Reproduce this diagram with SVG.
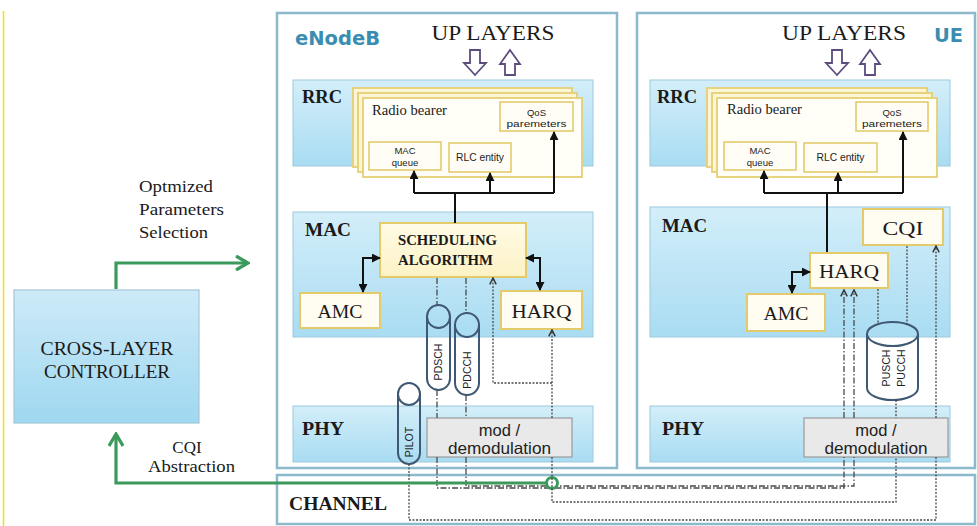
<svg xmlns="http://www.w3.org/2000/svg" width="977" height="526" viewBox="0 0 977 526">
<defs>
<style>
.serif{font-family:"Liberation Serif","Times New Roman",serif;fill:#1a1a1a}
.sans{font-family:"Liberation Sans",Arial,sans-serif;fill:#222}
.bold{font-weight:bold}
.outer{fill:#fff;stroke:#8cb9cb;stroke-width:2.5}
.band{fill:url(#bandGrad);stroke:#9ccadd;stroke-width:1}
.node{fill:#fffdf2;stroke:#e3cb6c;stroke-width:2}
.card{fill:#fdf6d4;stroke:#e6cf74;stroke-width:1.8}
.cardf{fill:#fffef7;stroke:#e6cf74;stroke-width:1.8}
.sub{fill:#fffdf5;stroke:#e3cb6c;stroke-width:1.6}
.cap{fill:none;stroke:#3f5874;stroke-width:2}
.mod{fill:#e9e9e9;stroke:#9a9a9a;stroke-width:1.2}
.solid{fill:none;stroke:#111;stroke-width:2}
.dot{fill:none;stroke:#4a4a4a;stroke-width:1.3;stroke-dasharray:2 1.5}
.dashdot{fill:none;stroke:#4a4a4a;stroke-width:1.3;stroke-dasharray:6 2 1.5 2}
.green{fill:none;stroke:#3a9a5c;stroke-width:3.2}
.blk{fill:#fff;stroke:#5d4b7d;stroke-width:1.8}
.title{font-family:"DejaVu Sans",Verdana,sans-serif;font-weight:bold;fill:#3a8db0}
</style>
<linearGradient id="bandGrad" x1="0" y1="0" x2="0" y2="1">
<stop offset="0" stop-color="#d3eef9"/>
<stop offset="1" stop-color="#a9dcf2"/>
</linearGradient>
<linearGradient id="ctrlGrad" x1="0" y1="0" x2="0" y2="1">
<stop offset="0" stop-color="#cdeaf8"/>
<stop offset="1" stop-color="#9fd8f0"/>
</linearGradient>
<linearGradient id="schedGrad" x1="0" y1="0" x2="0" y2="1">
<stop offset="0" stop-color="#fffbe6"/>
<stop offset="1" stop-color="#fcf2c4"/>
</linearGradient>
<marker id="ab" markerUnits="userSpaceOnUse" markerWidth="9" markerHeight="9" viewBox="0 0 10 10" refX="9" refY="5" orient="auto-start-reverse">
<path d="M0,0 L10,5 L0,10 z" fill="#111"/>
</marker>
<marker id="ad" markerUnits="userSpaceOnUse" markerWidth="8" markerHeight="8" viewBox="0 0 10 10" refX="9" refY="5" orient="auto">
<path d="M1,1 L9,5 L1,9" fill="none" stroke="#333" stroke-width="1.8"/>
</marker>
<marker id="ag" markerUnits="userSpaceOnUse" markerWidth="16" markerHeight="16" viewBox="0 0 16 16" refX="14" refY="8" orient="auto">
<path d="M2,1 L14,8 L2,15" fill="none" stroke="#3a9a5c" stroke-width="3.2"/>
</marker>
</defs>

<rect width="977" height="526" fill="#fff"/>
<line x1="3.5" y1="11" x2="3.5" y2="526" stroke="#f2e200" stroke-width="1.5"/>

<!-- containers -->
<g id="enodeb">
<rect class="outer" x="277" y="13" width="340" height="455"/>
<text class="title" x="295" y="45" font-size="19.5">eNodeB</text>
<text class="serif" x="493" y="40" font-size="20" text-anchor="middle" textLength="123" lengthAdjust="spacingAndGlyphs">UP LAYERS</text>
<path class="blk" d="M470,50 H480 V63 H486 L475,75 L464,63 H470 Z"/>
<path class="blk" d="M505,75 H515 V64 H520 L510,50 L500,64 H505 Z"/>
</g>
<g id="ue">
<rect class="outer" x="637" y="13" width="338" height="455"/>
<text class="title" x="934" y="42" font-size="19.5">UE</text>
<text class="serif" x="844" y="40" font-size="20" text-anchor="middle" textLength="124" lengthAdjust="spacingAndGlyphs">UP LAYERS</text>
<path class="blk" d="M832,50 H842 V63 H848 L837,75 L826,63 H832 Z"/>
<path class="blk" d="M865,75 H875 V64 H880 L870,50 L860,64 H865 Z"/>
</g>
<g id="channel">
<rect x="277" y="475" width="698" height="49" fill="#fff" stroke="#8cb9cb" stroke-width="2.5"/>
<text class="serif bold" x="289" y="510" font-size="18" textLength="98" lengthAdjust="spacingAndGlyphs">CHANNEL</text>
</g>

<!-- bands -->
<g id="enb-rrc">
<rect class="band" x="293" y="80" width="300" height="86"/>
<text class="serif bold" x="302" y="103" font-size="18" textLength="40" lengthAdjust="spacingAndGlyphs">RRC</text>
</g>
<g id="enb-mac">
<rect class="band" x="293" y="212" width="300" height="125"/>
<text class="serif bold" x="305" y="236" font-size="18" textLength="46" lengthAdjust="spacingAndGlyphs">MAC</text>
</g>
<g id="enb-phy">
<rect class="band" x="293" y="406" width="300" height="56"/>
<text class="serif bold" x="302" y="435" font-size="18" textLength="42" lengthAdjust="spacingAndGlyphs">PHY</text>
</g>
<g id="ue-rrc">
<rect class="band" x="650" y="80" width="300" height="86"/>
<text class="serif bold" x="657" y="103" font-size="18" textLength="40" lengthAdjust="spacingAndGlyphs">RRC</text>
</g>
<g id="ue-mac">
<rect class="band" x="650" y="207" width="300" height="130"/>
<text class="serif bold" x="662" y="232" font-size="18" textLength="45" lengthAdjust="spacingAndGlyphs">MAC</text>
</g>
<g id="ue-phy">
<rect class="band" x="650" y="406" width="300" height="56"/>
<text class="serif bold" x="662" y="435" font-size="18" textLength="42" lengthAdjust="spacingAndGlyphs">PHY</text>
</g>

<!-- eNodeB RRC cards -->
<g id="enb-radio-bearer">
<rect class="card" x="353" y="88" width="219" height="79"/>
<rect class="card" x="358" y="93" width="219" height="79"/>
<rect class="cardf" x="363" y="98" width="219" height="79"/>
<text class="serif" x="372" y="115" font-size="14" textLength="75" lengthAdjust="spacingAndGlyphs">Radio bearer</text>
</g>
<g id="enb-qos">
<rect class="sub" x="500" y="102" width="73" height="29"/>
<text class="sans" x="536.5" y="116" font-size="9.5" text-anchor="middle">QoS</text>
<text class="sans" x="536.5" y="127" font-size="9.5" text-anchor="middle" textLength="60" lengthAdjust="spacingAndGlyphs">paremeters</text>
</g>
<g id="enb-macq">
<rect class="sub" x="369" y="142" width="72" height="28"/>
<text class="sans" x="405" y="154" font-size="9.5" text-anchor="middle">MAC</text>
<text class="sans" x="405" y="166" font-size="9.5" text-anchor="middle">queue</text>
</g>
<g id="enb-rlc">
<rect class="sub" x="449" y="143" width="62" height="29"/>
<text class="sans" x="480" y="161" font-size="10" text-anchor="middle" textLength="48" lengthAdjust="spacingAndGlyphs">RLC entity</text>
</g>

<!-- UE RRC cards -->
<g id="ue-radio-bearer">
<rect class="card" x="707" y="88" width="220" height="79"/>
<rect class="card" x="712" y="93" width="220" height="79"/>
<rect class="cardf" x="717" y="98" width="220" height="79"/>
<text class="serif" x="727" y="114" font-size="14" textLength="75" lengthAdjust="spacingAndGlyphs">Radio bearer</text>
</g>
<g id="ue-qos">
<rect class="sub" x="856" y="102" width="72" height="29"/>
<text class="sans" x="892" y="116" font-size="9.5" text-anchor="middle">QoS</text>
<text class="sans" x="892" y="127" font-size="9.5" text-anchor="middle" textLength="60" lengthAdjust="spacingAndGlyphs">paremeters</text>
</g>
<g id="ue-macq">
<rect class="sub" x="724" y="142" width="72" height="28"/>
<text class="sans" x="760" y="154" font-size="9.5" text-anchor="middle">MAC</text>
<text class="sans" x="760" y="166" font-size="9.5" text-anchor="middle">queue</text>
</g>
<g id="ue-rlc">
<rect class="sub" x="804" y="143" width="73" height="29"/>
<text class="sans" x="840.5" y="161" font-size="10" text-anchor="middle" textLength="48" lengthAdjust="spacingAndGlyphs">RLC entity</text>
</g>

<!-- eNodeB MAC nodes -->
<g id="enb-sched">
<rect x="380" y="223" width="146" height="54" fill="url(#schedGrad)" stroke="#e3cb6c" stroke-width="2"/>
<text class="serif bold" x="398" y="245" font-size="15" textLength="99" lengthAdjust="spacingAndGlyphs">SCHEDULING</text>
<text class="serif bold" x="398" y="265" font-size="15" textLength="95" lengthAdjust="spacingAndGlyphs">ALGORITHM</text>
</g>
<g id="enb-amc">
<rect class="node" x="300" y="293" width="80" height="35"/>
<text class="serif" x="340" y="318" font-size="19" text-anchor="middle" textLength="45" lengthAdjust="spacingAndGlyphs">AMC</text>
</g>
<g id="enb-harq">
<rect class="node" x="501" y="291" width="81" height="38"/>
<text class="serif" x="541.5" y="318" font-size="19" text-anchor="middle" textLength="60" lengthAdjust="spacingAndGlyphs">HARQ</text>
</g>
<g id="enb-pdsch">
<rect class="cap" x="427" y="305" width="23" height="85" rx="11.5"/>
<path class="cap" d="M427,316.5 A11.5,11.5 0 0 0 450,316.5"/>
<text class="sans" transform="translate(442.3,362) rotate(-90)" font-size="10.5" text-anchor="middle">PDSCH</text>
</g>
<g id="enb-pdcch">
<rect class="cap" x="455" y="313" width="24" height="82" rx="12"/>
<path class="cap" d="M455,325 A12,12 0 0 0 479,325"/>
<text class="sans" transform="translate(470.8,370) rotate(-90)" font-size="10.5" text-anchor="middle">PDCCH</text>
</g>
<g id="enb-pilot">
<rect class="cap" x="398" y="383" width="22" height="81" rx="11"/>
<path class="cap" d="M398,394 A11,11 0 0 0 420,394"/>
<text class="sans" transform="translate(412.8,442) rotate(-90)" font-size="10.5" text-anchor="middle">PILOT</text>
</g>
<g id="enb-mod">
<rect class="mod" x="427" y="418" width="145" height="39"/>
<text class="sans" x="499.5" y="436" font-size="16.5" text-anchor="middle">mod /</text>
<text class="sans" x="499.5" y="454" font-size="16.5" text-anchor="middle" textLength="103" lengthAdjust="spacingAndGlyphs">demodulation</text>
</g>

<!-- UE MAC nodes -->
<g id="ue-cqi">
<rect class="node" x="863" y="209" width="80" height="36"/>
<text class="serif" x="903" y="235" font-size="19" text-anchor="middle" textLength="41" lengthAdjust="spacingAndGlyphs">CQI</text>
</g>
<g id="ue-harq">
<rect class="node" x="810" y="253" width="78" height="35"/>
<text class="serif" x="849" y="278" font-size="19" text-anchor="middle" textLength="60" lengthAdjust="spacingAndGlyphs">HARQ</text>
</g>
<g id="ue-amc">
<rect class="node" x="747" y="294" width="78" height="37"/>
<text class="serif" x="786" y="320" font-size="19" text-anchor="middle" textLength="45" lengthAdjust="spacingAndGlyphs">AMC</text>
</g>
<g id="ue-pusch">
<path class="cap" d="M867,334 V388 A25.5,12 0 0 0 918,388 V334"/>
<ellipse class="cap" cx="892.5" cy="334" rx="25.5" ry="12"/>
<text class="sans" transform="translate(890,368) rotate(-90)" font-size="10.5" text-anchor="middle">PUSCH</text>
<text class="sans" transform="translate(905,368) rotate(-90)" font-size="10.5" text-anchor="middle">PUCCH</text>
</g>
<g id="ue-mod">
<rect class="mod" x="804" y="418" width="144" height="39"/>
<text class="sans" x="876" y="436" font-size="16.5" text-anchor="middle">mod /</text>
<text class="sans" x="876" y="454" font-size="16.5" text-anchor="middle" textLength="103" lengthAdjust="spacingAndGlyphs">demodulation</text>
</g>

<!-- controller -->
<g id="controller">
<rect x="14" y="290" width="185" height="133" fill="url(#ctrlGrad)" stroke="#a3c6d6" stroke-width="1.2"/>
<text class="serif" x="107" y="355" font-size="18" text-anchor="middle" textLength="133" lengthAdjust="spacingAndGlyphs">CROSS-LAYER</text>
<text class="serif" x="107" y="378" font-size="18" text-anchor="middle" textLength="126" lengthAdjust="spacingAndGlyphs">CONTROLLER</text>
</g>
<g id="labels">
<text class="serif" x="139" y="192" font-size="17" textLength="74" lengthAdjust="spacingAndGlyphs">Optmized</text>
<text class="serif" x="139" y="215" font-size="17" textLength="85" lengthAdjust="spacingAndGlyphs">Parameters</text>
<text class="serif" x="139" y="238" font-size="17" textLength="69" lengthAdjust="spacingAndGlyphs">Selection</text>
<text class="serif" x="187" y="453" font-size="17" text-anchor="middle">CQI</text>
<text class="serif" x="148" y="472" font-size="17" textLength="87" lengthAdjust="spacingAndGlyphs">Abstraction</text>
</g>

<!-- connectors -->
<g id="connectors">
<!-- eNodeB RRC tree -->
<path class="solid" d="M455,223 V193"/>
<path class="solid" d="M414,193 H554"/>
<path class="solid" d="M414,193 V171" marker-end="url(#ab)"/>
<path class="solid" d="M490,193 V173" marker-end="url(#ab)"/>
<path class="solid" d="M554,193 V132" marker-end="url(#ab)"/>
<path class="solid" d="M380,258 H363 V292" marker-start="url(#ab)" marker-end="url(#ab)"/>
<path class="solid" d="M526,258 H540 V290" marker-start="url(#ab)" marker-end="url(#ab)"/>
<!-- UE RRC tree -->
<path class="solid" d="M827,252 V193"/>
<path class="solid" d="M764,193 H903"/>
<path class="solid" d="M764,193 V171" marker-end="url(#ab)"/>
<path class="solid" d="M838,193 V173" marker-end="url(#ab)"/>
<path class="solid" d="M903,193 V132" marker-end="url(#ab)"/>
<path class="solid" d="M810,272 H792 V293" marker-start="url(#ab)" marker-end="url(#ab)"/>
<!-- dash-dot PDSCH / PDCCH -->
<path class="dashdot" d="M437,278 V305"/>
<path class="dashdot" d="M466,278 V313"/>
<path class="dashdot" d="M437,390 V418"/>
<path class="dashdot" d="M466,395 V418"/>
<path class="dashdot" d="M437,457 V488 H844 V457"/>
<path class="dashdot" d="M466,457 V486 H854 V457"/>
<path class="dashdot" d="M844,418 V290" marker-end="url(#ad)"/>
<path class="dashdot" d="M854,418 V290" marker-end="url(#ad)"/>
<!-- dotted -->
<path class="dot" d="M552,418 V330" marker-end="url(#ad)"/>
<path class="dot" d="M552,383 H493 V278" marker-end="url(#ad)"/>
<path class="dot" d="M409,464 V520 H936 V457"/>
<path class="dot" d="M936,418 V246" marker-end="url(#ad)"/>
<path class="dot" d="M878,289 V324"/>
<path class="dot" d="M907,246 V326"/>
<path class="dot" d="M896,400 V418"/>
<!-- green -->
<path class="green" d="M547,483 H116 V434" marker-end="url(#ag)"/>
<path class="green" d="M116,289 V263 H248" marker-end="url(#ag)"/>
<circle cx="552" cy="483" r="5.5" fill="#fff" stroke="#3a9a5c" stroke-width="3"/>
<path class="dot" d="M552,457 V502 H896 V457"/>
</g>
</svg>
